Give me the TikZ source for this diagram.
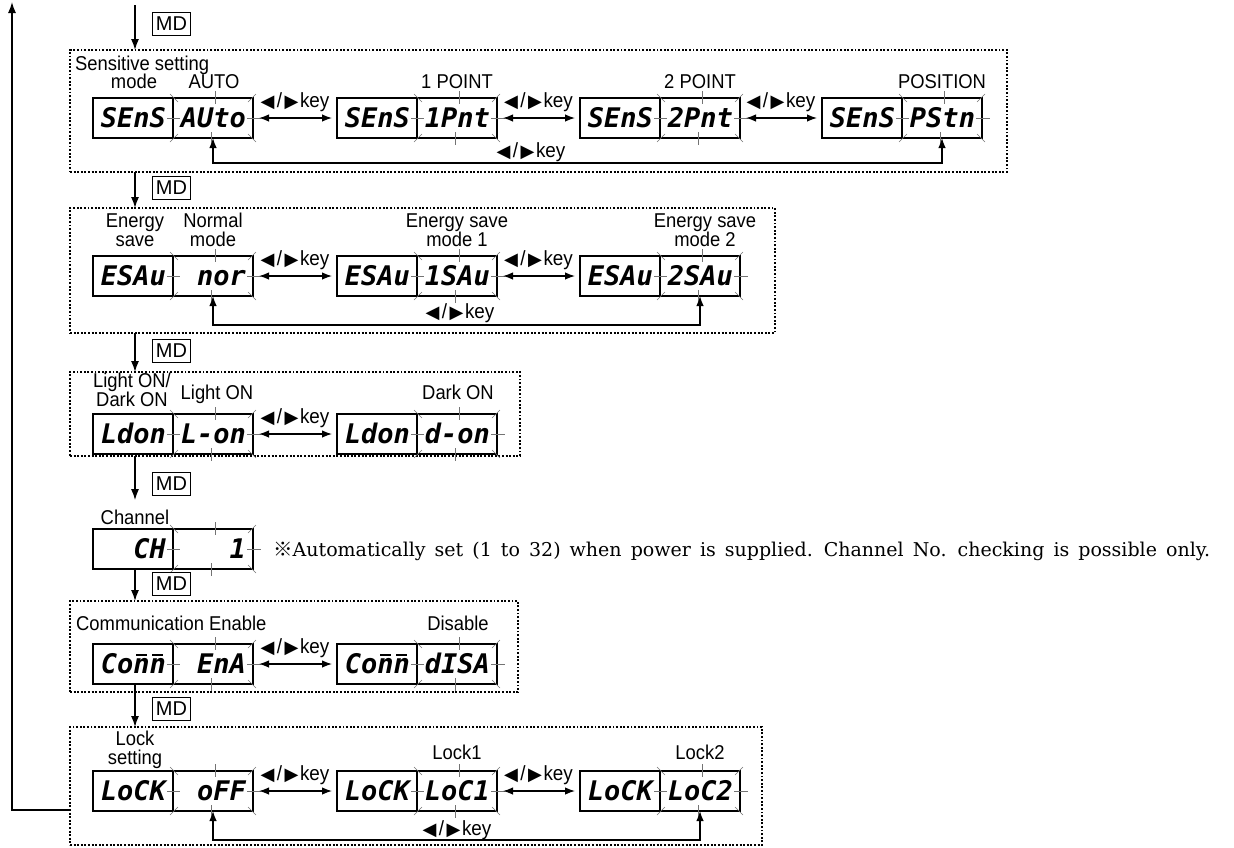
\documentclass[tikz,border=0pt]{standalone}
\usepackage{fontspec}
\usetikzlibrary{arrows.meta,calc}
\newfontfamily\lblfont{Liberation Sans}[FakeStretch=0.92]
\newfontfamily\mdfont{Liberation Sans}
\newfontfamily\segfont{DejaVu Sans Mono}
\newfontfamily\symfont{DejaVu Sans}
\newfontfamily\notefont{DejaVu Serif}[WordSpace=1.5]
\newfontfamily\cjkfont{Noto Sans CJK SC}
\newcommand\nbar{\ooalign{n\cr\hfil\raisebox{0.66em}{\rule{0.40em}{0.085em}}\hfil\cr}}
\newcommand\KEY{{\symfont\fontsize{18}{18}\selectfont ◀}\kern2.5pt/\kern2.5pt{\symfont\fontsize{18}{18}\selectfont ▶}\kern1.5pt key}
\tikzset{
  disp/.style={draw, line width=2.2pt, minimum height=40pt, inner xsep=7pt, inner ysep=0pt,
    text width=66pt, align=right, text height=19.5pt, text depth=0pt, outer sep=0pt,
    font=\segfont\bfseries\itshape\fontsize{27}{27}\selectfont},
  tick/.style={draw=black!55, line width=0.6pt},
  frame/.style={draw, line width=1.9pt, dash pattern=on 1.9pt off 1.7pt, inner sep=0pt, outer sep=0pt, anchor=north west},
  arr/.style={line width=1.3pt, -{Latex[length=11pt,width=8pt]}},
  arrtwo/.style={line width=1.3pt, {Latex[length=10pt,width=7.5pt]}-{Latex[length=10pt,width=7.5pt]}},
  mdbox/.style={draw, line width=1.1pt, minimum width=38pt, minimum height=23pt, inner sep=0pt,
    font=\mdfont\fontsize{20}{20}\selectfont},
  lbl/.style={font=\lblfont\fontsize{20}{19}\selectfont, inner sep=0pt, align=center, text depth=0pt, anchor=south},
  keylbl/.style={font=\lblfont\fontsize{20.5}{19}\selectfont, inner sep=0pt, anchor=base},
}
\newcommand\Tk[1]{%
  \draw[tick] ($(#1.north)+(2,-7)$) -- ($(#1.north)+(2,6)$);
  \draw[tick] ($(#1.south)+(-2,-6)$) -- ($(#1.south)+(-2,7)$);
  \draw[tick] ($(#1.west)+(-6,0)$) -- ($(#1.west)+(7,0)$);
  \draw[tick] ($(#1.east)+(-6,0)$) -- ($(#1.east)+(8,0)$);
  \draw[tick] ($(#1.north west)+(-3,-4)$) -- ($(#1.north west)+(5,4)$);
  \draw[tick] ($(#1.north east)+(3,-4)$) -- ($(#1.north east)+(-5,4)$);
  \draw[tick] ($(#1.south west)+(-3,4)$) -- ($(#1.south west)+(5,-4)$);
  \draw[tick] ($(#1.south east)+(3,4)$) -- ($(#1.south east)+(-5,-4)$);
}
\newcommand\Disp[5]{%
  \node[disp, minimum width=80pt] (#1L) at ({#2+40},{#3+20}) {#4};
  \node[disp, minimum width=80pt] (#1R) at ({#2+120},{#3+20}) {#5};
  \Tk{#1R}%
}
\newcommand\Link[3]{% from display #1 to display #2, label name #3
  \draw[arrtwo] ($(#1R.east)+(6,0)$) -- ($(#2L.west)+(-5,0)$);
  \node[keylbl] (#3) at ($($(#1R.east)!0.5!(#2L.west)$)+(0,-11)$) {\KEY};
}
\begin{document}
\begin{tikzpicture}[x=1pt,y=-1pt]
\useasboundingbox (0,0) rectangle (1234,847);
\coordinate (col) at (135,0);
\coordinate (entry) at (135,5);
\coordinate (looptop) at (12,2);

% frames
\node[frame, minimum width=937pt, minimum height=122pt] (f1) at (70,50) {};
\node[frame, minimum width=705pt, minimum height=125pt] (f2) at (70,208) {};
\node[frame, minimum width=450pt, minimum height=84pt] (f3) at (70,372) {};
\node[frame, minimum width=448pt, minimum height=91pt] (f5) at (70,601) {};
\node[frame, minimum width=692pt, minimum height=118pt] (f6) at (70,727) {};

% row 1
\Disp{a1}{93}{98}{SEnS}{AUto}
\Disp{a2}{337}{98}{SEnS}{1Pnt}
\Disp{a3}{580}{98}{SEnS}{2Pnt}
\Disp{a4}{822}{98}{SEnS}{PStn}
\Link{a1}{a2}{ka1}
\Link{a2}{a3}{ka2}
\Link{a3}{a4}{ka3}
\draw[arrtwo] (a1R.south) -- ++(0,25) -| (a4R.south);
\node[keylbl] (ka4) at (531,157) {\KEY};
\node[lbl, anchor=south west] (la0) at (75,71) {Sensitive setting};
\node[lbl] (la0b) at (134,89) {mode};
\node[lbl] (la1) at (214,89) {AUTO};
\node[lbl] (la2) at (457,89) {1 POINT};
\node[lbl] (la3) at (700,89) {2 POINT};
\node[lbl] (la4) at (942,89) {POSITION};

% row 2
\Disp{b1}{93}{256}{ESAu}{nor}
\Disp{b2}{337}{256}{ESAu}{1SAu}
\Disp{b3}{580}{256}{ESAu}{2SAu}
\Link{b1}{b2}{kb1}
\Link{b2}{b3}{kb2}
\draw[arrtwo] (b1R.south) -- ++(0,29) -| (b3R.south);
\node[keylbl] (kb3) at (460,318) {\KEY};
\node[lbl] (lb0) at (135,247) {Energy\\save};
\node[lbl] (lb1) at (213,247) {Normal\\mode};
\node[lbl] (lb2) at (457,247) {Energy save\\mode 1};
\node[lbl] (lb3) at (705,247) {Energy save\\mode 2};

% row 3
\Disp{c1}{93}{414}{Ldon}{L-on}
\Disp{c2}{337}{414}{Ldon}{d-on}
\Link{c1}{c2}{kc1}
\node[lbl] (lc0) at (132,407) {Light ON/\\Dark ON};
\node[lbl] (lc1) at (217,400) {Light ON};
\node[lbl] (lc2) at (458,400) {Dark ON};

% channel
\Disp{d4}{93}{529}{CH}{1}
\node[lbl] (chl) at (135,525) {Channel};
\node[anchor=base west, inner sep=0pt, font=\notefont\fontsize{19}{19}\selectfont] (note) at (273,556)
  {{\cjkfont\fontsize{19.5}{19.5}\selectfont ※}Automatically set (1 to 32) when power is supplied. Channel No. checking is possible only.};

% row 5
\Disp{e1}{93}{644}{Co\nbar\nbar}{EnA}
\Disp{e2}{337}{644}{Co\nbar\nbar}{dISA}
\Link{e1}{e2}{ke1}
\node[lbl, anchor=south west] (le0) at (76,631) {Communication\ Enable};
\node[lbl] (le2) at (458,631) {Disable};

% row 6
\Disp{g1}{93}{771}{LoCK}{oFF}
\Disp{g2}{337}{771}{LoCK}{LoC1}
\Disp{g3}{580}{771}{LoCK}{LoC2}
\Link{g1}{g2}{kg1}
\Link{g2}{g3}{kg2}
\draw[arrtwo] (g1R.south) -- ++(0,29) -| (g3R.south);
\node[keylbl] (kg3) at (457,835) {\KEY};
\node[lbl] (lg0) at (135,765) {Lock\\setting};
\node[lbl] (lg1) at (457,760) {Lock1};
\node[lbl] (lg2) at (700,760) {Lock2};

% MD transitions
\draw[arr] (entry) -- (entry |- f1.north);
\node[mdbox] (md0) at (171.5,24) {MD};
\draw[arr] (col |- f1.south) -- (col |- f2.north);
\node[mdbox] (md1) at (171.5,188) {MD};
\draw[arr] (col |- f2.south) -- (col |- f3.north);
\node[mdbox] (md2) at (171.5,351) {MD};
\draw[arr] (col |- f3.south) -- ($(chl.north)+(0,-10)$);
\node[mdbox] (md3) at (171.5,484) {MD};
\draw[arr] (col |- d4L.south) -- (col |- f5.north);
\node[mdbox] (md4) at (171.5,584) {MD};
\draw[arr] (col |- e1L.south) -- (col |- f6.north);
\node[mdbox] (md5) at (171.5,709) {MD};

% return loop
\draw[arr] ($(f6.south west)+(0,-35)$) -| (looptop);
\end{tikzpicture}
\end{document}
